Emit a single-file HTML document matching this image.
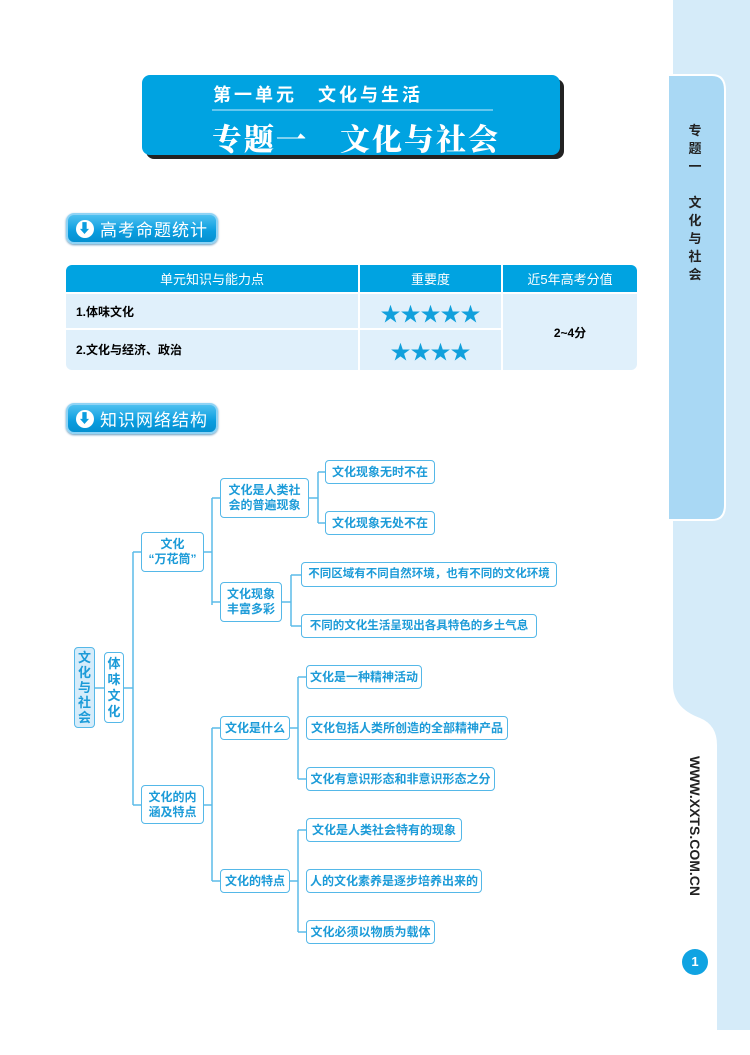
<!DOCTYPE html>
<html><head><meta charset="utf-8"><style>
*{margin:0;padding:0;box-sizing:border-box}
body{width:750px;height:1055px;position:relative;background:#fff;font-family:"Liberation Sans","Noto Sans CJK SC",sans-serif;overflow:hidden}
.a{position:absolute}
.b{position:absolute;border:1.5px solid #55b8e8;border-radius:4px;background:#fff;color:#1c9bd8;font-weight:bold;font-size:12px;display:flex;align-items:center;justify-content:center;text-align:center;line-height:15px;white-space:nowrap}
.pill{position:absolute;height:31px;border-radius:8px;background:linear-gradient(#4fc0f0,#0a9ddf 60%,#0590d0);border:2px solid #8fd3f5;box-shadow:0 1px 2px #69b;color:#fff;font-size:17px;display:flex;align-items:center;padding-left:32px;letter-spacing:1px}
.pill i{position:absolute;left:8px;top:5px;width:18px;height:18px;border-radius:50%;background:#fff;color:#0a9ddf;font-style:normal;font-size:13px;line-height:18px;text-align:center;font-weight:bold}
.tc{position:absolute;display:flex;align-items:center;justify-content:center;font-size:12px}
</style></head><body>
<svg class="a" style="left:0;top:0" width="750" height="1055">
<path d="M673 0 H750 V1030 H717 V745 Q717 725 700 718 Q673 708 673 685 Z" fill="#d5ebf9"/>
<path d="M668 75 H712 Q725 75 725 90 V505 Q725 520 712 520 H668 Z" fill="#a9d8f4" stroke="#fff" stroke-width="2"/>
<rect x="146" y="79" width="418" height="80" rx="8" fill="#222"/>
<rect x="142" y="75" width="418" height="80" rx="8" fill="#00a3e1"/>
<line x1="212" y1="110" x2="493" y2="110" stroke="#9fdcf7" stroke-width="1.2"/>
<circle cx="695" cy="962" r="13" fill="#10a3e2"/>
<g stroke="#5bbbe8" stroke-width="1.5" fill="none">
<path d="M95 688H104M124 688H133M133 552V805M133 552H141M133 805H141"/>
<path d="M204 552H212M212 498V605M212 498H220M212 602H220"/>
<path d="M309 498H318M318 472V523M318 472H325M318 523H325"/>
<path d="M282 602H291M291 575V626M291 575H301M291 626H301"/>
<path d="M204 805H212M212 728V881M212 728H220M212 881H220"/>
<path d="M290 728H298M298 677V779M298 677H306M298 779H306"/>
<path d="M290 881H298M298 830V932M298 830H306M298 932H306"/>
</g>
</svg>
<div class="a" style="left:213px;top:81px;color:#fff;font-size:18px;letter-spacing:3px;font-weight:bold">第一单元　文化与生活</div>
<div class="a" style="left:212px;top:115px;color:#fff;font-size:30px;font-weight:900;letter-spacing:2px;font-family:'Liberation Serif','Noto Serif CJK SC',serif">专题一　文化与社会</div>
<div class="pill" style="left:66px;top:213px;width:152px"><i>⬇</i>高考命题统计</div>
<div class="pill" style="left:66px;top:403px;width:152px"><i>⬇</i>知识网络结构</div>
<div class="a" style="left:66px;top:265px;width:571px;height:105px;background:#e0f0fb;border-radius:6px;overflow:hidden">
<div class="a" style="left:0;top:0;width:571px;height:27px;background:#00a3e1"></div>
<div class="a" style="left:292px;top:0;width:2px;height:105px;background:#fff"></div>
<div class="a" style="left:435px;top:0;width:2px;height:105px;background:#fff"></div>
<div class="a" style="left:0;top:27px;width:571px;height:2px;background:#fff"></div>
<div class="a" style="left:0;top:63px;width:436px;height:2px;background:#fff"></div>
</div>
<div class="tc" style="left:66px;top:265px;width:292px;height:27px;color:#fff;font-size:13px">单元知识与能力点</div>
<div class="tc" style="left:360px;top:265px;width:141px;height:27px;color:#fff;font-size:13px">重要度</div>
<div class="tc" style="left:503px;top:265px;width:134px;height:27px;color:#fff;font-size:13px">近5年高考分值</div>
<div class="tc" style="left:76px;top:294px;height:34px;font-weight:bold">1.体味文化</div>
<div class="tc" style="left:76px;top:330px;height:39px;font-weight:bold">2.文化与经济、政治</div>
<div class="tc" style="left:360px;top:294px;width:141px;height:36px;color:#12a0dc;font-size:20px">★★★★★</div>
<div class="tc" style="left:360px;top:331px;width:141px;height:39px;color:#12a0dc;font-size:20px">★★★★</div>
<div class="tc" style="left:503px;top:294px;width:134px;height:76px;font-weight:bold">2~4分</div>
<div class="a" style="left:680px;top:122px;width:30px;font-size:13px;font-weight:bold;line-height:18px;text-align:center;color:#222">专<br>题<br>一<br><br>文<br>化<br>与<br>社<br>会</div>
<div class="a" style="left:620px;top:818px;width:150px;font-size:14px;font-weight:bold;color:#222;transform:rotate(90deg);text-align:center">WWW.XXTS.COM.CN</div>
<div class="a" style="left:682px;top:954px;width:26px;text-align:center;color:#fff;font-size:13px;font-weight:bold">1</div>
<div class="b" style="left:74px;top:647px;width:21px;height:81px;background:#d5ecfa;white-space:normal;font-size:13px;line-height:15px;padding:0 3px">文化与社会</div>
<div class="b" style="left:104px;top:652px;width:20px;height:71px;white-space:normal;font-size:13px;line-height:16px;padding:0 3px">体味文化</div>
<div class="b" style="left:141px;top:532px;width:63px;height:40px">文化<br>“万花筒”</div>
<div class="b" style="left:141px;top:785px;width:63px;height:39px">文化的内<br>涵及特点</div>
<div class="b" style="left:220px;top:478px;width:89px;height:40px">文化是人类社<br>会的普遍现象</div>
<div class="b" style="left:220px;top:582px;width:62px;height:40px">文化现象<br>丰富多彩</div>
<div class="b" style="left:325px;top:460px;width:110px;height:24px">文化现象无时不在</div>
<div class="b" style="left:325px;top:511px;width:110px;height:24px">文化现象无处不在</div>
<div class="b" style="left:301px;top:562px;width:256px;height:25px;font-size:11.5px">不同区域有不同自然环境，也有不同的文化环境</div>
<div class="b" style="left:301px;top:614px;width:236px;height:24px;font-size:11.5px">不同的文化生活呈现出各具特色的乡土气息</div>
<div class="b" style="left:220px;top:716px;width:70px;height:24px">文化是什么</div>
<div class="b" style="left:220px;top:869px;width:70px;height:24px">文化的特点</div>
<div class="b" style="left:306px;top:665px;width:116px;height:24px">文化是一种精神活动</div>
<div class="b" style="left:306px;top:716px;width:202px;height:24px">文化包括人类所创造的全部精神产品</div>
<div class="b" style="left:306px;top:767px;width:189px;height:24px">文化有意识形态和非意识形态之分</div>
<div class="b" style="left:306px;top:818px;width:156px;height:24px">文化是人类社会特有的现象</div>
<div class="b" style="left:306px;top:869px;width:176px;height:24px">人的文化素养是逐步培养出来的</div>
<div class="b" style="left:306px;top:920px;width:129px;height:24px">文化必须以物质为载体</div>
</body></html>
